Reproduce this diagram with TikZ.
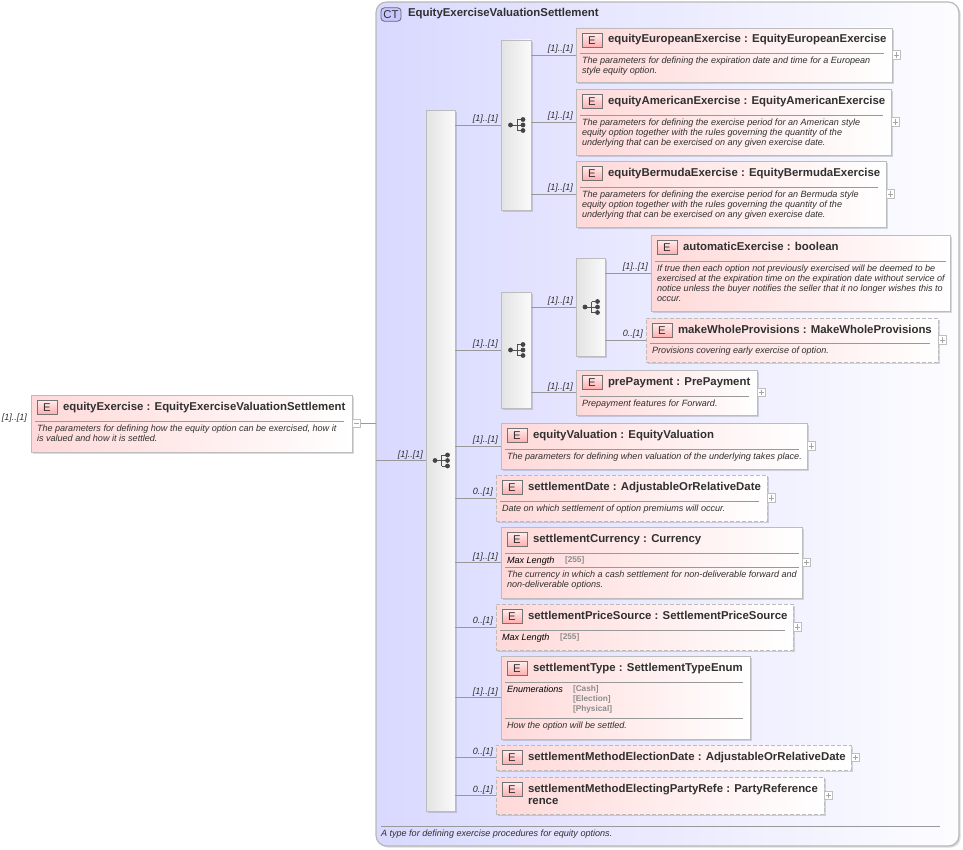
\documentclass[tikz,border=0pt]{standalone}
\usepackage{fontspec}
\setmainfont{Liberation Sans}
\usetikzlibrary{shadows}
\definecolor{ink}{HTML}{303030}
\definecolor{edgeg}{HTML}{BCBCBC}
\definecolor{wireg}{HTML}{989898}
\tikzset{
  x=0.75pt,y=-0.75pt,
  every node/.style={inner sep=0pt,outer sep=0pt,text=ink},
  sh/.style={drop shadow={shadow xshift=1.3pt,shadow yshift=-1.3pt,fill=black,opacity=.14}},
  elsolid/.style={draw=edgeg,line width=.7pt,left color=red!15,right color=white,sh},
  eldash/.style={draw=edgeg,line width=.7pt,dash pattern=on 3pt off 1.5pt,left color=red!15,right color=white,sh},
  seqbox/.style={draw=edgeg,line width=.6pt,left color=black!11,right color=black!2,sh},
  wire/.style={draw=wireg,line width=.7pt},
  rulel/.style={draw=black!40,line width=.6pt},
  badge/.style={draw=black!55,line width=.6pt,top color=red!8,bottom color=red!32,font=\fontsize{8.5}{8}\selectfont,minimum width=15pt,minimum height=10pt,text=ink},
  ttl/.style={font=\fontsize{8.55}{9}\selectfont\bfseries,anchor=base west},
  dsc/.style={font=\fontsize{6.8}{7.5}\selectfont\itshape,anchor=north west,align=left,yshift=-1.1pt},
  mult/.style={font=\fontsize{6.8}{7.5}\selectfont\itshape,anchor=base east},
  fac/.style={font=\fontsize{6.8}{7.5}\selectfont\itshape,text=black,anchor=north west,align=left,yshift=-1.1pt},
  facv/.style={font=\fontsize{6.2}{7.5}\selectfont\bfseries,text=black!45,anchor=north west,align=left,yshift=-1.1pt},
  expbox/.style={draw=black!25,line width=.5pt,fill=white,minimum width=6.4pt,minimum height=6.4pt,anchor=west},
}
% name style x1 y1 x2 y2 title
\newcommand\elem[7]{%
  \pgfmathsetmacro\wpx{(#5-#3)*.75}\pgfmathsetmacro\hpx{(#6-#4)*.75}%
  \node[#2,minimum width=\wpx pt,minimum height=\hpx pt,anchor=north west] (#1) at (#3,#4) {};
  \node[badge] (#1-b) at (#3+16,#4+12.5) {E};
  \node[ttl] (#1-t) at (#3+32,#4+15) {#7};
}
\newcommand\hr[4]{\draw[rulel] (#1+#3,#2) -- (#1+#4,#2);}
\newcommand\expd[2]{%
  \node[expbox] (#1-x) at (#2.east) {};
  \draw[draw=black!35,line width=.4pt] ([xshift=-2pt]#1-x.center) -- ([xshift=2pt]#1-x.center) ([yshift=-2pt]#1-x.center) -- ([yshift=2pt]#1-x.center);
}
\newcommand\seqicon[1]{%
  \begin{scope}[shift={(#1.center)}]
    \draw[ink!85,line width=.7pt] (-5,0) -- (1,0) (1,-5.5) -- (1,5.5) (1,-5.5) -- (6,-5.5) (1,5.5) -- (6,5.5) (1,0) -- (6,0);
    \fill[ink!90] (-5.5,0) circle[radius=2.4] (7,-5.5) circle[radius=2.4] (7,0) circle[radius=2.4] (7,5.5) circle[radius=2.4];
  \end{scope}
}
\newcommand\seqn[5]{%
  \pgfmathsetmacro\wpx{(#4-#2)*.75}\pgfmathsetmacro\hpx{(#5-#3)*.75}%
  \node[seqbox,minimum width=\wpx pt,minimum height=\hpx pt,anchor=north west] (#1) at (#2,#3) {};
  \seqicon{#1}
}
\newcommand\conn[3]{%
  \draw[wire] (#1.east |- #2.west) -- (#2.west);
  \node[mult] (#2-m) at ([xshift=-2.25pt,yshift=2.6pt]#2.west) {#3};
}
\begin{document}
\begin{tikzpicture}
\useasboundingbox (0,0) rectangle (963,849);
% complex type
\node[draw=black!28,line width=.9pt,rounded corners=8pt,left color=blue!15,right color=blue!1,sh,minimum width=437.25pt,minimum height=633pt,anchor=north west] (ct) at (376,2) {};
\node[draw=black!60,line width=.6pt,rounded corners=2.5pt,fill=blue!22,minimum width=15pt,minimum height=10pt,font=\fontsize{8.5}{8}\selectfont] (ctb) at (391,14.5) {CT};
\node[ttl] (ctt) at (408,17) {EquityExerciseValuationSettlement};
\draw[rulel] (381,826) -- (940,826);
\node[dsc] (ctd) at (381,828.5) {A type for defining exercise procedures for equity options.};
% root
\elem{root}{elsolid}{31}{395}{352}{452}{equityExercise : EquityExerciseValuationSettlement}
\hr{31}{421}{4}{313}
\node[dsc] (rootd) at (37,423.5) {The parameters for defining how the equity option can be exercised, how it\\is valued and how it is settled.};
\node[mult] (rootm) at (27,420.5) {[1]..[1]};
\node[expbox] (rootx) at (root.east) {};
\draw[draw=black!35,line width=.4pt] ([xshift=-2pt]rootx.center) -- ([xshift=2pt]rootx.center);
\draw[wire] (rootx.east) -- (ct.west |- rootx.east);
% sequences
\seqn{s0}{426}{110}{455}{811}
\seqn{s1}{501}{40}{531}{210}
\seqn{s2}{501}{292}{531}{408}
\seqn{s3}{576}{258}{605}{356}
\draw[wire] (ct.west |- s0.west) -- (s0.west);
\node[mult] (s0-m) at ([xshift=-2.25pt,yshift=2.6pt]s0.west) {[1]..[1]};
\conn{s0}{s1}{[1]..[1]}
\conn{s0}{s2}{[1]..[1]}
\conn{s2}{s3}{[1]..[1]}
% group 1
\elem{eu}{elsolid}{576}{28}{892}{82}{equityEuropeanExercise : EquityEuropeanExercise}
\hr{576}{53}{4}{308}
\node[dsc] (eud) at (582,55.5) {The parameters for defining the expiration date and time for a European\\style equity option.};
\expd{eu}{eu}\conn{s1}{eu}{[1]..[1]}
\elem{am}{elsolid}{576}{89}{891}{155}{equityAmericanExercise : EquityAmericanExercise}
\hr{576}{115}{4}{307}
\node[dsc] (amd) at (582,117.5) {The parameters for defining the exercise period for an American style\\equity option together with the rules governing the quantity of the\\underlying that can be exercised on any given exercise date.};
\expd{am}{am}\conn{s1}{am}{[1]..[1]}
\elem{be}{elsolid}{576}{161}{886}{227}{equityBermudaExercise : EquityBermudaExercise}
\hr{576}{187}{4}{302}
\node[dsc] (bed) at (582,189.5) {The parameters for defining the exercise period for an Bermuda style\\equity option together with the rules governing the quantity of the\\underlying that can be exercised on any given exercise date.};
\expd{be}{be}\conn{s1}{be}{[1]..[1]}
% group 2
\elem{au}{elsolid}{651}{235}{950}{311}{automaticExercise : boolean}
\hr{651}{261}{4}{295}
\node[dsc] (aud) at (657,263.5) {If true then each option not previously exercised will be deemed to be\\exercised at the expiration time on the expiration date without service of\\notice unless the buyer notifies the seller that it no longer wishes this to\\occur.};
\conn{s3}{au}{[1]..[1]}
\elem{mw}{eldash}{646}{318}{938}{362}{makeWholeProvisions : MakeWholeProvisions}
\hr{646}{343}{4}{284}
\node[dsc] (mwd) at (652,345.5) {Provisions covering early exercise of option.};
\expd{mw}{mw}\conn{s3}{mw}{0..[1]}
\elem{pp}{elsolid}{576}{370}{757}{415}{prePayment : PrePayment}
\hr{576}{396}{4}{173}
\node[dsc] (ppd) at (582,398.5) {Prepayment features for Forward.};
\expd{pp}{pp}\conn{s2}{pp}{[1]..[1]}
% main
\elem{ev}{elsolid}{501}{423}{807}{469}{equityValuation : EquityValuation}
\hr{501}{449}{4}{298}
\node[dsc] (evd) at (507,451.5) {The parameters for defining when valuation of the underlying takes place.};
\expd{ev}{ev}\conn{s0}{ev}{[1]..[1]}
\elem{sd}{eldash}{496}{475}{767}{521}{settlementDate : AdjustableOrRelativeDate}
\hr{496}{501}{4}{263}
\node[dsc] (sdd) at (502,503.5) {Date on which settlement of option premiums will occur.};
\expd{sd}{sd}\conn{s0}{sd}{0..[1]}
\elem{sc}{elsolid}{501}{527}{802}{598}{settlementCurrency : Currency}
\hr{501}{553}{4}{298}
\node[fac] (scf) at (507,555.5) {Max Length};
\node[facv] (scv) at (565,555) {[255]};
\hr{501}{567}{4}{298}
\node[dsc] (scd) at (507,569.5) {The currency in which a cash settlement for non-deliverable forward and\\non-deliverable options.};
\expd{sc}{sc}\conn{s0}{sc}{[1]..[1]}
\elem{sp}{eldash}{496}{604}{793}{650}{settlementPriceSource : SettlementPriceSource}
\hr{496}{630}{4}{289}
\node[fac] (spf) at (502,632.5) {Max Length};
\node[facv] (spv) at (560,632) {[255]};
\expd{sp}{sp}\conn{s0}{sp}{0..[1]}
\elem{st}{elsolid}{501}{656}{750}{739}{settlementType : SettlementTypeEnum}
\hr{501}{682}{4}{242}
\node[fac] (stf) at (507,684.5) {Enumerations};
\node[facv] (stv) at (573,684.5) {[Cash]\\[0pt][Election]\\[0pt][Physical]};
\hr{501}{718}{4}{242}
\node[dsc] (std) at (507,720.5) {How the option will be settled.};
\conn{s0}{st}{[1]..[1]}
\elem{se}{eldash}{496}{745}{851}{770}{settlementMethodElectionDate : AdjustableOrRelativeDate}
\expd{se}{se}\conn{s0}{se}{0..[1]}
\elem{sm}{eldash}{496}{777}{824}{814}{settlementMethodElectingPartyRefe : PartyReference}
\node[ttl] (sm-t2) at (528,804.5) {rence};
\expd{sm}{sm}\conn{s0}{sm}{0..[1]}
\end{tikzpicture}
\end{document}
